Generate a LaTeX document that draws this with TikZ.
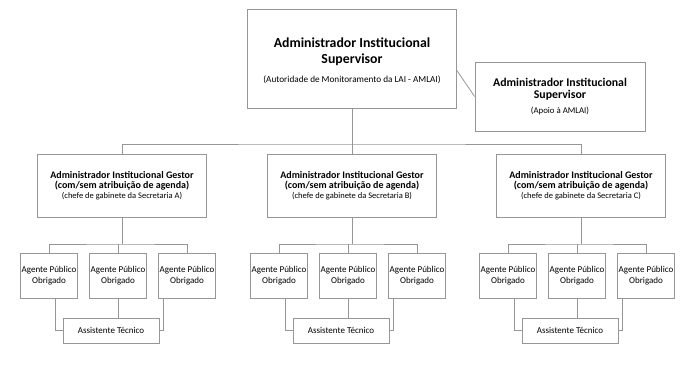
\documentclass[tikz,border=0pt]{standalone}
\usepackage{fontspec}
\setmainfont{Carlito}
\usetikzlibrary{positioning}
\definecolor{orggray}{RGB}{150,150,150}

\tikzset{
  orgbox/.style={draw=orggray, line width=0.8pt, align=center, inner sep=0pt, text=black},
  supbox/.style={orgbox, minimum width=209pt, minimum height=99pt, font=\fontsize{13.8}{16}\selectfont},
  apoiobox/.style={orgbox, minimum width=170pt, minimum height=69pt, font=\fontsize{11.8}{12.5}\selectfont},
  gestorbox/.style={orgbox, minimum width=169pt, minimum height=63pt, font=\fontsize{10}{10}\selectfont},
  agentbox/.style={orgbox, minimum width=57pt, minimum height=45pt, font=\fontsize{9}{10.5}\selectfont},
  assistbox/.style={orgbox, minimum width=96pt, minimum height=25pt, font=\fontsize{9}{10.5}\selectfont},
  link/.style={draw=orggray, line width=0.8pt}
}

\begin{document}
\begin{tikzpicture}[x=1pt, y=-1pt]
  \useasboundingbox (0,0) rectangle (690,365);

  % topo: supervisor e apoio
  \node[supbox] (sup) at (352,58.5) {\rule{0pt}{15pt}\bfseries Administrador Institucional\\\bfseries Supervisor\\[3pt]{\fontsize{9.2}{10}\selectfont (Autoridade de Monitoramento da LAI - AMLAI)}};
  \node[apoiobox] (apo) at (560,96.5) {\bfseries Administrador Institucional\\\bfseries Supervisor\\[2pt]{\fontsize{8.8}{10}\selectfont (Apoio à AMLAI)}};
  \draw[link] ([yshift=-12pt]sup.east) -- (apo.west);

  % secretarias
  \foreach \g/\x in {A/122, B/352, C/581} {
    \node[gestorbox] (g\g) at (\x,185.5) {\bfseries Administrador Institucional Gestor\\\bfseries (com/sem atribuição de agenda)\\{\fontsize{8.5}{9.5}\selectfont (chefe de gabinete da Secretaria \g)}};
    \node[agentbox] (ag\g1) at (\x-73,275.5) {Agente Público\\Obrigado};
    \node[agentbox] (ag\g2) at (\x-4,275.5) {Agente Público\\Obrigado};
    \node[agentbox] (ag\g3) at (\x+65,275.5) {Agente Público\\Obrigado};
    \node[assistbox] (as\g) at (\x-11,330.5) {Assistente Técnico};
    \coordinate (bus\g) at (\x,244);
    \draw[link] (ag\g1.north) |- (bus\g) -| (ag\g3.north);
    \draw[link] (g\g.south) -- (bus\g);
    \draw[link] (ag\g2.north) -- (ag\g2.north |- bus\g);
    \draw[link] ([xshift=6.5pt]ag\g1.south) |- (as\g.west);
    \draw[link] (ag\g2.south) -- (ag\g2.south |- as\g.north);
    \draw[link] ([xshift=-23.5pt]ag\g3.south) |- (as\g.east);
  }

  % ligacao supervisor - gestores
  \coordinate (bus) at (352,144);
  \draw[link] (gA.north) |- (bus) -| (gC.north);
  \draw[link] (sup.south) -- (gB.north);
\end{tikzpicture}
\end{document}
